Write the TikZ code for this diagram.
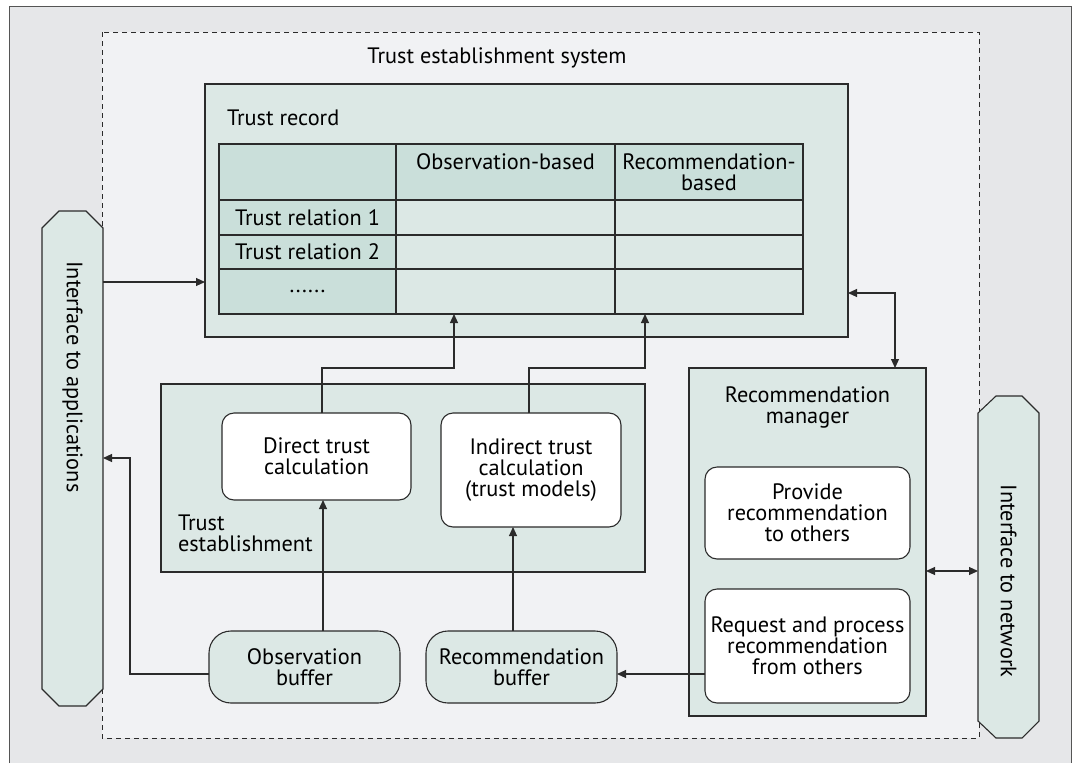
\documentclass[tikz,border=0pt]{standalone}
\usepackage{fontspec}
\setmainfont{PT Sans}
\usetikzlibrary{arrows.meta}
\definecolor{outerbg}{HTML}{E6E7E9}
\definecolor{innerbg}{HTML}{F1F2F4}
\definecolor{boxfill}{HTML}{DCE8E5}
\definecolor{hdrfill}{HTML}{CADFDA}
\definecolor{linec}{HTML}{2B2B2B}
\definecolor{framec}{HTML}{555555}
\begin{document}
\begin{tikzpicture}[x=1pt,y=-1pt, font=\fontsize{22.3}{21}\selectfont,
  every node/.style={inner sep=0pt, outer sep=0pt},
  frame/.style={draw=linec, line width=1.1pt},
  panel/.style={frame, fill=boxfill, anchor=north west},
  whitebox/.style={frame, fill=white, rounded corners=12pt, anchor=north west, align=center},
  bufbox/.style={frame, fill=boxfill, rounded corners=22pt, anchor=north west, align=center},
  hcell/.style={frame, fill=hdrfill, anchor=north west, align=center},
  dcell/.style={frame, fill=boxfill, anchor=north west},
  ifacebox/.style={anchor=north west},
  conn/.style={draw=linec, line width=1.1pt, -{Triangle[length=9pt,width=8pt]}},
  dconn/.style={draw=linec, line width=1.1pt, {Triangle[length=9pt,width=8pt]}-{Triangle[length=9pt,width=8pt]}}
]
\useasboundingbox (0,0) rectangle (1075,763);
\fill[white] (0,0) rectangle (1075,763);
\fill[outerbg] (9,6) rectangle (1071,763);
\draw[framec, line width=1pt] (9,763) -- (9,6) -- (1071,6) -- (1071,763);
\draw[linec, line width=1pt, dash pattern=on 5pt off 4pt, fill=innerbg] (102,32) rectangle (979,738);

\node (sys) at (497,58) {Trust establishment system};

% trust record
\node[panel, minimum width=643pt, minimum height=253pt] (rec) at (205,84) {};
\node[anchor=west] (reclbl) at (227,118) {Trust record};
\node[hcell, minimum width=177pt, minimum height=56pt] (h0) at (219,144) {};
\node[hcell, minimum width=219pt, minimum height=56pt] (h1) at (396,144) {Observation-based\\ \mbox{}};
\node[hcell, minimum width=188pt, minimum height=56pt] (h2) at (615,144) {Recommendation-\\based};
\node[hcell, minimum width=177pt, minimum height=35pt] (r1a) at (219,200) {Trust relation 1};
\node[dcell, minimum width=219pt, minimum height=35pt] (r1b) at (396,200) {};
\node[dcell, minimum width=188pt, minimum height=35pt] (r1c) at (615,200) {};
\node[hcell, minimum width=177pt, minimum height=34pt] (r2a) at (219,235) {Trust relation 2};
\node[dcell, minimum width=219pt, minimum height=34pt] (r2b) at (396,235) {};
\node[dcell, minimum width=188pt, minimum height=34pt] (r2c) at (615,235) {};
\node[hcell, minimum width=177pt, minimum height=45pt] (r3a) at (219,269) {......};
\node[dcell, minimum width=219pt, minimum height=45pt] (r3b) at (396,269) {};
\node[dcell, minimum width=188pt, minimum height=45pt] (r3c) at (615,269) {};

% trust establishment
\node[panel, minimum width=484pt, minimum height=188pt] (est) at (161,384) {};
\node[anchor=west, align=left] (estlbl) at (178,533) {Trust\\establishment};
\node[whitebox, minimum width=189pt, minimum height=87pt] (direct) at (222,413) {Direct trust\\calculation};
\node[whitebox, minimum width=180pt, minimum height=114pt] (indirect) at (441,413) {Indirect trust\\calculation\\(trust models)};

% buffers
\node[bufbox, minimum width=191pt, minimum height=72pt] (obsbuf) at (209,631) {Observation\\buffer};
\node[bufbox, minimum width=191pt, minimum height=72pt] (recbuf) at (426,631) {Recommendation\\buffer};

% recommendation manager
\node[panel, minimum width=237pt, minimum height=348pt] (recmgr) at (689,368) {};
\node[align=center] (mgrlbl) at (807.5,407) {Recommendation\\manager};
\node[whitebox, minimum width=205pt, minimum height=92pt] (provide) at (705,467) {Provide\\recommendation\\to others};
\node[whitebox, minimum width=205pt, minimum height=114pt] (request) at (705,589) {Request and process\\recommendation\\from others};

% interfaces
\node[ifacebox, minimum width=61pt, minimum height=495pt] (appif) at (42,211) {};
\draw[frame, fill=boxfill] ([yshift=-17pt]appif.north west) -- ([xshift=17pt]appif.north west) -- ([xshift=-17pt]appif.north east) -- ([yshift=-17pt]appif.north east) -- ([yshift=17pt]appif.south east) -- ([xshift=-17pt]appif.south east) -- ([xshift=17pt]appif.south west) -- ([yshift=17pt]appif.south west) -- cycle;
\node[rotate=-90] (applbl) at (72.5,377) {Interface to applications};
\node[ifacebox, minimum width=61pt, minimum height=342pt] (netif) at (978,396) {};
\draw[frame, fill=boxfill] ([yshift=-17pt]netif.north west) -- ([xshift=18pt]netif.north west) -- ([xshift=-17pt]netif.north east) -- ([yshift=-17pt]netif.north east) -- ([yshift=17pt]netif.south east) -- ([xshift=-17pt]netif.south east) -- ([xshift=18pt]netif.south west) -- ([yshift=17pt]netif.south west) -- cycle;
\node[rotate=-90] (netlbl) at (1008.5,581) {Interface to network};

% connectors
\draw[conn] (appif.east |- 0,282) -- (rec.west |- 0,282);
\draw[conn] (direct.north -| 322,0) -- (322,368) -- (454,368) -- (r3b.south -| 454,0);
\draw[conn] (indirect.north -| 529,0) -- (529,368) -- (645,368) -- (r3c.south -| 645,0);
\draw[dconn] (rec.east |- 0,293) -| (recmgr.north -| 895,0);
\draw[dconn] (recmgr.east |- 0,571) -- (netif.west |- 0,571);
\draw[conn] (obsbuf.west |- 0,674) -| (130,458) -- (appif.east |- 0,458);
\draw[conn] (obsbuf.north -| 323,0) -- (direct.south -| 323,0);
\draw[conn] (recbuf.north -| 513,0) -- (indirect.south -| 513,0);
\draw[conn] (request.west |- 0,674) -- (recbuf.east |- 0,674);
\end{tikzpicture}
\end{document}
